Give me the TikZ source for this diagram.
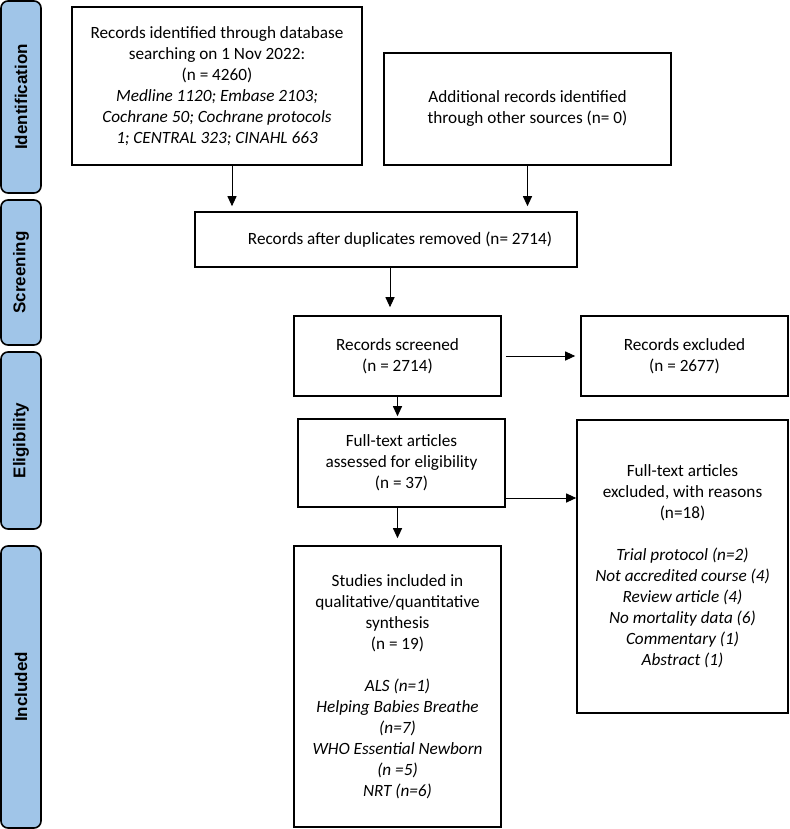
\documentclass[tikz,border=0pt]{standalone}
\usepackage{fontspec}
\setmainfont{Carlito}
\newfontfamily\stagefont{Liberation Sans}
\usetikzlibrary{arrows.meta}
\definecolor{stagebg}{RGB}{160,197,232}

\begin{document}
\begin{tikzpicture}[x=1pt,y=-1pt,
	box/.style={draw,line width=1.6pt,align=center,inner sep=0pt,font=\fontsize{17.2}{21}\selectfont},
	stage/.style={draw,line width=1.6pt,rounded corners=7pt,fill=stagebg,rotate=90,minimum height=40pt,inner sep=0pt,font=\stagefont\bfseries\fontsize{17}{20}\selectfont},
	arr/.style={-{Triangle[width=9pt,length=10pt]},line width=1pt}]
	\useasboundingbox (0,0) rectangle (789,829);
	% stages on the left
	\node (ident) at (21,97) [stage,minimum width=192pt] {Identification};
	\node (screen) at (21,272.5) [stage,minimum width=145pt] {Screening};
	\node (elig) at (21,440.5) [stage,minimum width=177pt] {Eligibility};
	\node (incl) at (21,687) [stage,minimum width=282pt] {Included};
	% boxes
	\node (search) at (217,86) [box,minimum width=290pt,minimum height=158pt] {Records identified through database\\searching on 1 Nov 2022:\\(n = 4260)\\\itshape Medline 1120; Embase 2103;\\\itshape Cochrane 50; Cochrane protocols\\\itshape 1; CENTRAL 323; CINAHL 663};
	\node (other) at (527.5,109) [box,minimum width=287pt,minimum height=112pt] {Additional records identified\\through other sources (n= 0)};
	\node (dup) at (386,239.5) [box,minimum width=382pt,minimum height=55pt] {\hspace{28pt}Records after duplicates removed (n= 2714)};
	\node (screened) at (397.5,356) [box,minimum width=207pt,minimum height=80pt] {Records screened\\(n = 2714)};
	\node (excl) at (684.5,356) [box,minimum width=207pt,minimum height=80pt] {Records excluded\\(n = 2677)};
	\node (full) at (401.5,463) [box,minimum width=207pt,minimum height=88pt] {Full-text articles\\assessed for eligibility\\(n = 37)};
	\node (reasons) at (682.5,566.5) [box,minimum width=211pt,minimum height=293pt] {Full-text articles\\excluded, with reasons\\(n=18)\\[21pt]\itshape Trial protocol (n=2)\\\itshape Not accredited course (4)\\\itshape Review article (4)\\\itshape No mortality data (6)\\\itshape Commentary (1)\\\itshape Abstract (1)};
	\node (studies) at (397.5,686.5) [box,minimum width=207pt,minimum height=281pt] {Studies included in\\qualitative/quantitative\\synthesis\\(n = 19)\\[21pt]\itshape ALS (n=1)\\\itshape Helping Babies Breathe\\\itshape (n=7)\\\itshape WHO Essential Newborn\\\itshape (n =5)\\\itshape NRT (n=6)};
	% connectors
	\draw [arr,shorten >=5pt] ([xshift=15pt]search.south) -- ([xshift=15pt]search.south |- dup.north);
	\draw [arr,shorten >=5pt] (other.south) -- (other.south |- dup.north);
	\draw [arr,shorten >=8pt] ([xshift=4pt]dup.south) -- ([xshift=4pt]dup.south |- screened.north);
	\draw [arr,shorten >=2pt] (screened.south) -- (screened.south |- full.north);
	\draw [arr,shorten <=4pt,shorten >=5pt] (screened.east) -- (excl.west);
	\draw [arr] ([yshift=-35pt]full.east) -- ([yshift=-35pt]full.east -| reasons.west);
	\draw [arr,shorten >=7pt] ([xshift=-4pt]full.south) -- ([xshift=-4pt]full.south |- studies.north);
\end{tikzpicture}
\end{document}
